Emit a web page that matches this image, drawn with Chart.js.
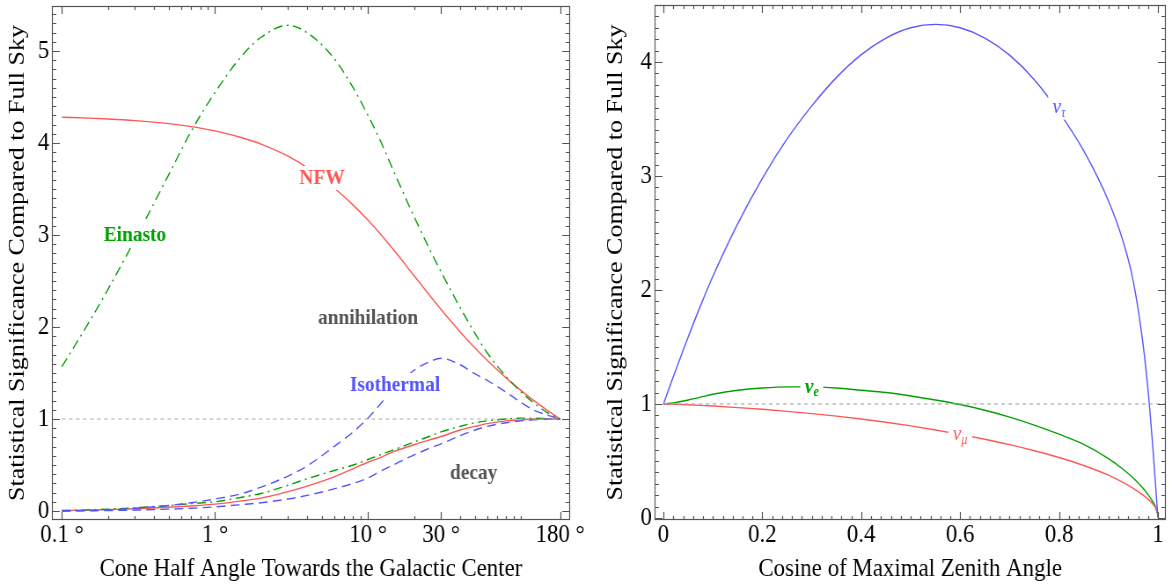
<!DOCTYPE html>
<html>
<head>
<meta charset="utf-8">
<script src="https://cdn.jsdelivr.net/npm/chart.js@4.4.1/dist/chart.umd.min.js"></script>
<style>
  body { margin: 0; background: #fff; }
  .panel { position: absolute; top: 0; }
  canvas { display: block; }
</style>
</head>
<body>
<!-- the original figure is squeezed horizontally, so each canvas is drawn wider and shown narrower -->
<div class="panel" style="left:0"><canvas id="left" width="682" height="585" style="width:600px;height:585px"></canvas></div>
<div class="panel" style="left:600px"><canvas id="right" width="650" height="585" style="width:572px;height:585px"></canvas></div>
<script>
// ---- left panel: cone half angle (degrees) ----
const angles = [0.1, 0.15, 0.2, 0.3, 0.5, 0.7, 1, 1.5, 2, 3, 4, 6, 8, 10, 12, 15, 20, 25, 30, 40, 50, 60, 80, 100, 120, 150, 180];
const nfwAnn = [4.28, 4.271, 4.262, 4.244, 4.211, 4.179, 4.132, 4.058, 3.989, 3.857, 3.732, 3.512, 3.325, 3.16, 3.014, 2.82, 2.557, 2.353, 2.191, 1.947, 1.772, 1.638, 1.444, 1.308, 1.205, 1.089, 1.0];
const einAnn = [1.57, 2.05, 2.41, 2.95, 3.66, 4.13, 4.55, 4.95, 5.15, 5.28, 5.20, 4.92, 4.60, 4.30, 4.03, 3.66, 3.20, 2.86, 2.60, 2.21, 1.93, 1.72, 1.46, 1.295, 1.18, 1.064, 1.0];
const isoAnn = [0.0, 0.005, 0.01, 0.03, 0.06, 0.09, 0.13, 0.19, 0.26, 0.38, 0.49, 0.70, 0.86, 1.01, 1.16, 1.35, 1.53, 1.62, 1.66, 1.59, 1.49, 1.42, 1.29, 1.18, 1.10, 1.04, 1.0];
const nfwDec = [0.005, 0.01, 0.015, 0.025, 0.04, 0.055, 0.075, 0.11, 0.14, 0.21, 0.27, 0.37, 0.46, 0.53, 0.58, 0.65, 0.72, 0.77, 0.81, 0.88, 0.92, 0.95, 0.98, 0.99, 1.0, 1.0, 1.0];
const einDec = [0.005, 0.012, 0.02, 0.035, 0.06, 0.08, 0.10, 0.15, 0.19, 0.28, 0.35, 0.44, 0.50, 0.56, 0.61, 0.67, 0.75, 0.81, 0.86, 0.92, 0.96, 0.98, 1.0, 1.01, 1.01, 1.005, 1.0];
const isoDec = [0.0, 0.002, 0.005, 0.01, 0.02, 0.03, 0.045, 0.07, 0.09, 0.13, 0.17, 0.24, 0.30, 0.36, 0.43, 0.51, 0.61, 0.68, 0.73, 0.82, 0.88, 0.92, 0.96, 0.98, 0.99, 1.0, 1.0];
const leftRefX = [0.1, 180];
const leftXTicks = [0.1, 1, 10, 30, 180];
const leftYTicks = [0, 1, 2, 3, 4, 5];

// ---- right panel: cosine of maximal zenith angle ----
const cosZen = [0, 0.02, 0.05, 0.075, 0.1, 0.15, 0.2, 0.25, 0.3, 0.35, 0.4, 0.45, 0.5, 0.55, 0.6, 0.65, 0.7, 0.75, 0.8, 0.85, 0.9, 0.93, 0.95, 0.97, 0.98, 0.99, 0.995, 1.0];
const nuTau = [1.0, 1.24, 1.588, 1.863, 2.12, 2.58, 2.98, 3.325, 3.615, 3.865, 4.065, 4.21, 4.30, 4.33, 4.30, 4.21, 4.06, 3.845, 3.56, 3.22, 2.78, 2.42, 2.08, 1.52, 1.12, 0.60, 0.30, 0.0];
const nuE = [1.0, 1.01, 1.035, 1.06, 1.085, 1.12, 1.14, 1.15, 1.15, 1.14, 1.12, 1.10, 1.07, 1.035, 0.995, 0.945, 0.885, 0.815, 0.735, 0.645, 0.52, 0.425, 0.35, 0.26, 0.205, 0.14, 0.10, 0.03];
const nuMu = [1.0, 0.998, 0.993, 0.988, 0.982, 0.968, 0.953, 0.935, 0.915, 0.893, 0.868, 0.84, 0.808, 0.772, 0.733, 0.69, 0.643, 0.59, 0.53, 0.46, 0.375, 0.31, 0.26, 0.20, 0.165, 0.12, 0.09, 0.03];
const rightRefX = [0, 1.02];
const rightXTicks = [0, 0.2, 0.4, 0.6, 0.8, 1];
const rightYTicks = [0, 1, 2, 3, 4];

const RED = '#ff5757', GREEN = '#00a000', BLUE = '#5555ff', GRAY = '#555555';
const SERIF = '"Liberation Serif", "DejaVu Serif", serif';

const pts = (xs, ys) => xs.map((x, i) => ({ x: x, y: ys[i] }));
const line = (data, color, dash) => ({
  data: data, borderColor: color, borderWidth: 1.4, borderDash: dash || [],
  showLine: true, pointRadius: 0, fill: false, cubicInterpolationMode: 'monotone'
});

// minor tick positions
const logMinor = [];
[0.1, 1, 10].forEach(d => { for (let k = 2; k <= 9; k++) logMinor.push(d * k); });
logMinor.push(100);
const tenths = (a, b) => { const r = []; for (let i = a * 10; i <= b * 10; i++) r.push(i / 10); return r; };
const rightXMinor = []; for (let i = 0; i <= 50; i++) rightXMinor.push(i / 50);

// frame with inward ticks on all four sides
const framePlugin = {
  id: 'frame',
  afterDraw(chart, args, o) {
    const { ctx, chartArea: a, scales } = chart;
    ctx.save();
    ctx.strokeStyle = '#555';
    ctx.lineWidth = 1.2;
    ctx.strokeRect(a.left + 0.5, a.top + 0.5, a.right - a.left - 1, a.bottom - a.top - 1);
    ctx.beginPath();
    const xt = (vals, len) => vals.forEach(v => {
      const p = Math.round(scales.x.getPixelForValue(v)) + 0.5;
      if (p < a.left || p > a.right) return;
      ctx.moveTo(p, a.bottom); ctx.lineTo(p, a.bottom - len);
      ctx.moveTo(p, a.top); ctx.lineTo(p, a.top + len);
    });
    const yt = (vals, len) => vals.forEach(v => {
      const p = Math.round(scales.y.getPixelForValue(v)) + 0.5;
      if (p < a.top || p > a.bottom) return;
      ctx.moveTo(a.left, p); ctx.lineTo(a.left + len, p);
      ctx.moveTo(a.right, p); ctx.lineTo(a.right - len, p);
    });
    xt(o.xMajor, 8); xt(o.xMinor, 4);
    yt(o.yMajor, 9); yt(o.yMinor, 5);
    ctx.stroke();
    ctx.restore();
  }
};

// curve labels with a white box that breaks the line
const labelPlugin = {
  id: 'curveLabels',
  afterDatasetsDraw(chart, args, o) {
    const { ctx, scales } = chart;
    ctx.save();
    o.items.forEach(l => {
      const px = scales.x.getPixelForValue(l.x);
      const py = scales.y.getPixelForValue(l.y);
      ctx.font = l.font;
      const w1 = ctx.measureText(l.text).width;
      let w2 = 0;
      if (l.sub) { ctx.font = l.subFont; w2 = ctx.measureText(l.sub).width; }
      const w = w1 + w2;
      ctx.fillStyle = '#fff';
      ctx.fillRect(px - w / 2 - 5, py - 12, w + 10, 24);
      ctx.fillStyle = l.color;
      ctx.textBaseline = 'middle';
      ctx.textAlign = 'left';
      ctx.font = l.font;
      ctx.fillText(l.text, px - w / 2, py);
      if (l.sub) { ctx.font = l.subFont; ctx.fillText(l.sub, px - w / 2 + w1, py + 6); }
    });
    ctx.restore();
  }
};

const tickFont = { family: SERIF, size: 26 };
const titleFont = { family: SERIF, size: 26 };
const yTitle = 'Statistical Significance Compared to Full Sky';

function axes(xType, xMin, xMax, xTicks, xFmt, xTitle, yMin, yMax, yTicks, yWidth, yTitlePad) {
  return {
    x: {
      type: xType, min: xMin, max: xMax,
      afterBuildTicks: s => { s.ticks = xTicks.map(v => ({ value: v })); },
      afterFit: s => { s.height = 65; s.paddingLeft = 0; s.paddingRight = 0; },
      ticks: { callback: xFmt, font: tickFont, color: '#000', padding: 0, maxRotation: 0, autoSkip: false },
      grid: { display: false, drawTicks: false },
      border: { display: false },
      title: { display: true, text: xTitle, font: titleFont, color: '#000', padding: { top: 0, bottom: 0 } }
    },
    y: {
      type: 'linear', min: yMin, max: yMax,
      afterBuildTicks: s => { s.ticks = yTicks.map(v => ({ value: v })); },
      afterFit: s => { s.width = yWidth; s.paddingTop = 0; s.paddingBottom = 0; },
      ticks: { callback: v => String(v), font: tickFont, color: '#000', padding: 3 },
      grid: { display: false, drawTicks: false },
      border: { display: false },
      title: { display: true, text: yTitle, font: titleFont, color: '#000', padding: { top: yTitlePad, bottom: 0 } }
    }
  };
}

Chart.register(framePlugin, labelPlugin);

const boldLabel = 'bold 22px ' + SERIF;

new Chart(document.getElementById('left'), {
  type: 'scatter',
  data: {
    datasets: [
      { data: pts(leftRefX, [1, 1]), borderColor: '#aaa', borderWidth: 1.2, borderDash: [4, 4], showLine: true, pointRadius: 0 },
      line(pts(angles, isoAnn), BLUE, [10, 6]),
      line(pts(angles, isoDec), BLUE, [10, 6]),
      line(pts(angles, einAnn), GREEN, [10, 5, 2, 5]),
      line(pts(angles, einDec), GREEN, [10, 5, 2, 5]),
      line(pts(angles, nfwAnn), RED),
      line(pts(angles, nfwDec), RED)
    ]
  },
  options: {
    responsive: false, animation: false,
    layout: { padding: { top: 6, right: 34, bottom: 0, left: 0 } },
    plugins: {
      legend: { display: false }, tooltip: { enabled: false },
      frame: { xMajor: leftXTicks, xMinor: logMinor, yMajor: leftYTicks, yMinor: tenths(0, 5.4) },
      curveLabels: { items: [
        { text: 'NFW', x: 5, y: 3.62, color: RED, font: boldLabel },
        { text: 'Einasto', x: 0.3, y: 3.0, color: GREEN, font: boldLabel },
        { text: 'annihilation', x: 10, y: 2.1, color: GRAY, font: boldLabel },
        { text: 'Isothermal', x: 15, y: 1.37, color: BLUE, font: boldLabel },
        { text: 'decay', x: 49, y: 0.41, color: GRAY, font: boldLabel }
      ] }
    },
    scales: axes('logarithmic', 0.086, 209, leftXTicks, v => v + ' °',
      'Cone Half Angle Towards the Galactic Center', -0.098, 5.49, leftYTicks, 59, 5)
  }
});

new Chart(document.getElementById('right'), {
  type: 'scatter',
  data: {
    datasets: [
      { data: pts(rightRefX, [1, 1]), borderColor: '#aaa', borderWidth: 1.2, borderDash: [4, 4], showLine: true, pointRadius: 0 },
      line(pts(cosZen, nuTau), BLUE),
      line(pts(cosZen, nuMu), RED),
      line(pts(cosZen, nuE), GREEN)
    ]
  },
  options: {
    responsive: false, animation: false,
    layout: { padding: { top: 5, right: 7, bottom: 0, left: 0 } },
    plugins: {
      legend: { display: false }, tooltip: { enabled: false },
      frame: { xMajor: rightXTicks, xMinor: rightXMinor, yMajor: rightYTicks, yMinor: tenths(0, 4.5) },
      curveLabels: { items: [
        { text: 'ν', sub: 'τ', x: 0.80, y: 3.6, color: BLUE, font: 'italic 22px ' + SERIF, subFont: 'italic 14px ' + SERIF },
        { text: 'ν', sub: 'e', x: 0.30, y: 1.15, color: GREEN, font: 'italic bold 22px ' + SERIF, subFont: 'italic bold 14px ' + SERIF },
        { text: 'ν', sub: 'μ', x: 0.60, y: 0.733, color: RED, font: 'italic 22px ' + SERIF, subFont: 'italic 14px ' + SERIF }
      ] }
    },
    scales: axes('linear', -0.018, 1.016, rightXTicks, v => String(v),
      'Cosine of Maximal Zenith Angle', -0.018, 4.5, rightYTicks, 62, 2.5)
  }
});
</script>
</body>
</html>
